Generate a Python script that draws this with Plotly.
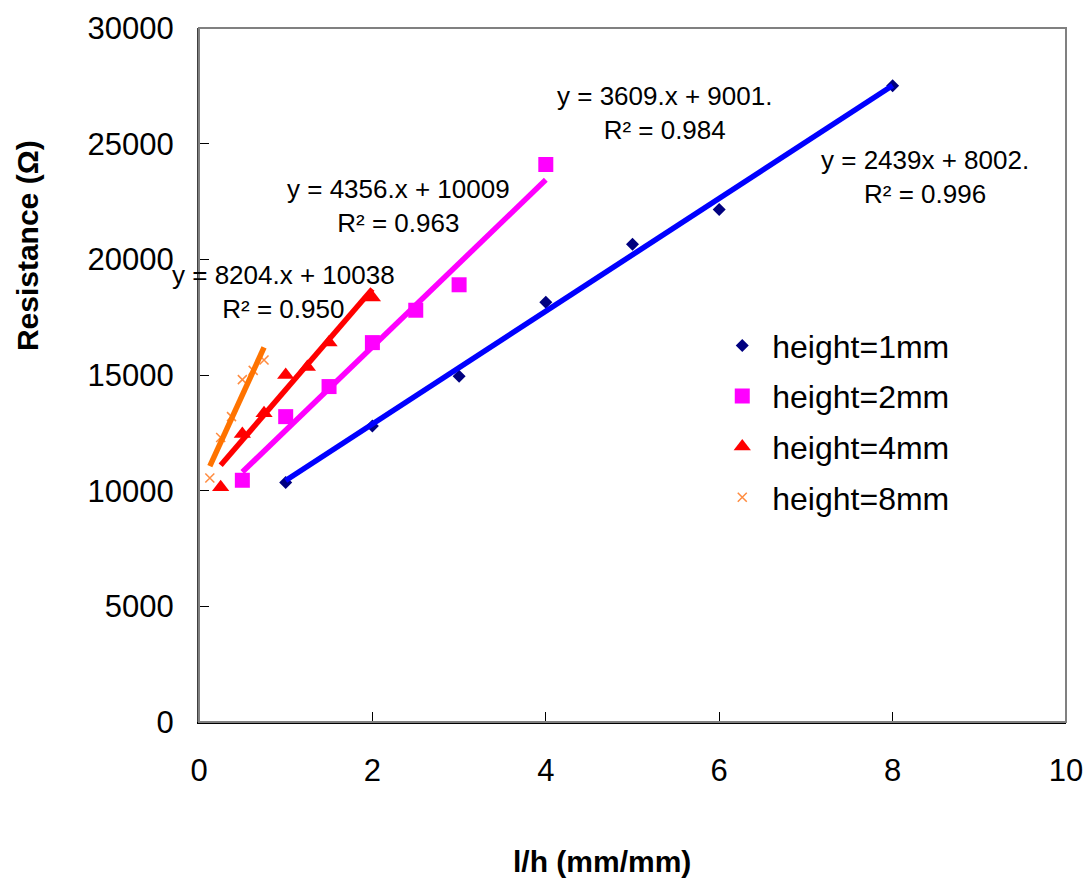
import plotly.graph_objects as go

# l/h ratio (mm/mm) and measured resistance (ohm) for each sample height
x_h1 = [1, 2, 3, 4, 5, 6, 8]
r_h1 = [10350, 12800, 14950, 18150, 20650, 22150, 27500]

x_h2 = [0.5, 1, 1.5, 2, 2.5, 3, 4]
r_h2 = [10450, 13200, 14500, 16400, 17800, 18900, 24100]

x_h4 = [0.25, 0.5, 0.75, 1, 1.25, 1.5, 2]
r_h4 = [10150, 12450, 13350, 15000, 15350, 16400, 18350]

x_h8 = [0.125, 0.25, 0.375, 0.5, 0.625, 0.75]
r_h8 = [10550, 12300, 13200, 14800, 15200, 15650]

series_names = ["height=1mm", "height=2mm", "height=4mm", "height=8mm"]

# linear trendline coefficients (slope, intercept) as printed on the chart
slopes = [2439, 3609, 4356, 8204]
intercepts = [8002, 9001, 10009, 10038]
eq_labels = [
    "y = 2439x + 8002.<br>R² = 0.996",
    "y = 3609.x + 9001.<br>R² = 0.984",
    "y = 4356.x + 10009<br>R² = 0.963",
    "y = 8204.x + 10038<br>R² = 0.950",
]
# label anchor points in data units
eq_label_x = [8.37, 5.37, 2.30, 0.98]
eq_label_y = [23550, 26320, 22290, 18590]

FONT = "Arial, 'Liberation Sans', sans-serif"

xs = [x_h1, x_h2, x_h4, x_h8]
rs = [r_h1, r_h2, r_h4, r_h8]
marker_styles = [
    dict(symbol="diamond", size=10, color="#000080"),
    dict(symbol="square", size=15, color="#FF00FF"),
    dict(symbol="triangle-up", size=15, color="#FF0000"),
    dict(symbol="x-thin-open", size=9, color="#FF8C40",
         line=dict(color="#FF8C40", width=1.5)),
]
line_colors = ["#0000FF", "#FF00FF", "#FF0000", "#FF7300"]

fig = go.Figure()

for i in range(4):
    fig.add_trace(go.Scatter(
        x=xs[i], y=rs[i], mode="markers", name=series_names[i],
        marker=marker_styles[i], legendgroup=series_names[i],
    ))

# trendlines span the data range of each series, drawn over the markers
for i in range(4):
    x0, x1 = min(xs[i]), max(xs[i])
    fig.add_trace(go.Scatter(
        x=[x0, x1],
        y=[slopes[i] * x0 + intercepts[i], slopes[i] * x1 + intercepts[i]],
        mode="lines", line=dict(color=line_colors[i], width=5.5),
        showlegend=False, hoverinfo="skip",
    ))

for i in range(4):
    fig.add_annotation(
        x=eq_label_x[i], y=eq_label_y[i], xref="x", yref="y",
        text=eq_labels[i], showarrow=False, align="center",
        font=dict(family=FONT, size=26, color="black"),
    )

# axis titles
fig.add_annotation(
    x=-0.197, y=0.686, xref="paper", yref="paper",
    xanchor="center", yanchor="middle",
    text="<b>Resistance (Ω)</b>", textangle=-90, showarrow=False,
    font=dict(family=FONT, size=30, color="black"),
)
fig.add_annotation(
    x=0.465, y=-0.201, xref="paper", yref="paper",
    xanchor="center", yanchor="middle",
    text="<b>l/h (mm/mm)</b>", showarrow=False,
    font=dict(family=FONT, size=30, color="black"),
)

# plot-area frame
fig.add_shape(type="rect", xref="paper", yref="paper", x0=0, y0=0, x1=1, y1=1,
              line=dict(color="#808080", width=2), layer="above")

fig.update_xaxes(
    range=[0, 10], dtick=2, tick0=0, showgrid=False, zeroline=False,
    showline=True, linecolor="black", linewidth=2,
    ticks="inside", ticklen=10, tickcolor="black", tickwidth=1,
    ticklabelstandoff=20, automargin=False,
    tickfont=dict(family=FONT, size=31, color="black"),
)
fig.update_yaxes(
    range=[0, 30000], dtick=5000, tick0=0, tickformat="d",
    showgrid=False, zeroline=False,
    showline=True, linecolor="#404040", linewidth=2,
    ticks="inside", ticklen=10, tickcolor="black", tickwidth=1,
    ticklabelstandoff=17, automargin=False,
    tickfont=dict(family=FONT, size=31, color="black"),
)

fig.update_layout(
    width=1084, height=879,
    margin=dict(l=199, r=18, t=28, b=157),
    paper_bgcolor="white", plot_bgcolor="white",
    font=dict(family=FONT, color="black"),
    showlegend=True,
    legend=dict(
        x=0.592, y=0.582, xanchor="left", yanchor="top",
        font=dict(family=FONT, size=32, color="black"),
        bgcolor="rgba(0,0,0,0)", borderwidth=0,
        tracegroupgap=6, itemwidth=50,
    ),
)

fig.write_html("out.html")
